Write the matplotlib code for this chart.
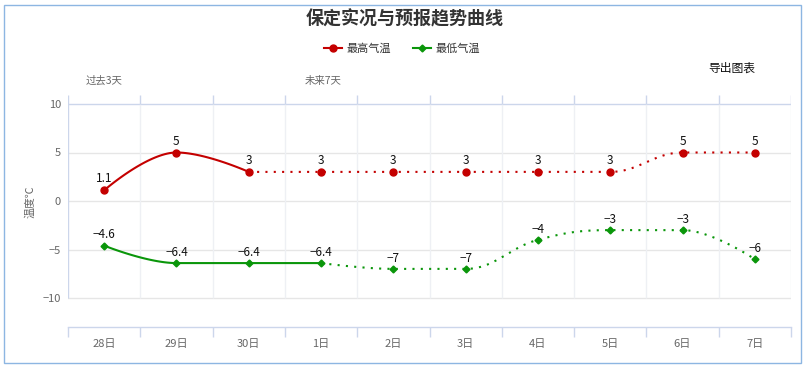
import numpy as np
import matplotlib
matplotlib.use("Agg")
import matplotlib.pyplot as plt
from matplotlib.lines import Line2D
from matplotlib.patches import Rectangle

plt.rcParams['font.family'] = ['Noto Sans CJK SC', 'DejaVu Sans']
plt.rcParams['axes.unicode_minus'] = True

# ---- data ----
dates = ['28日', '29日', '30日', '1日', '2日', '3日', '4日', '5日', '6日', '7日']
high = [1.1, 5, 3, 3, 3, 3, 3, 3, 5, 5]
low = [-4.6, -6.4, -6.4, -6.4, -7, -7, -4, -3, -3, -6]
high_solid_n = 3   # observed part (solid)
low_solid_n = 4
yticks = [-10, -5, 0, 5, 10]
title = '保定实况与预报趋势曲线'
series_names = ['最高气温', '最低气温']

RED = '#c40000'
GREEN = '#0a960a'
AXC = '#ccd6eb'
GRID = '#e6e6e6'


def hc_spline(xs, ys, n=40):
    xs = np.asarray(xs, float)
    ys = np.asarray(ys, float)
    m = len(xs)
    lcx, lcy = xs.copy(), ys.copy()
    rcx, rcy = xs.copy(), ys.copy()
    s = 1.5
    d = s + 1
    for i in range(1, m - 1):
        px, py = xs[i], ys[i]
        lx, ly = xs[i - 1], ys[i - 1]
        nx, ny = xs[i + 1], ys[i + 1]
        a_x = (s * px + lx) / d
        a_y = (s * py + ly) / d
        b_x = (s * px + nx) / d
        b_y = (s * py + ny) / d
        corr = 0.0
        if b_x != a_x:
            corr = (b_y - a_y) * (b_x - px) / (b_x - a_x) + py - b_y
        a_y += corr
        b_y += corr
        if a_y > ly and a_y > py:
            a_y = max(ly, py); b_y = 2 * py - a_y
        elif a_y < ly and a_y < py:
            a_y = min(ly, py); b_y = 2 * py - a_y
        if b_y > ny and b_y > py:
            b_y = max(ny, py); a_y = 2 * py - b_y
        elif b_y < ny and b_y < py:
            b_y = min(ny, py); a_y = 2 * py - b_y
        lcx[i], lcy[i], rcx[i], rcy[i] = a_x, a_y, b_x, b_y
    outx, outy = [xs[0]], [ys[0]]
    t = np.linspace(0, 1, n)[1:]
    for i in range(m - 1):
        p0 = np.array([xs[i], ys[i]])
        p1 = np.array([rcx[i], rcy[i]])
        p2 = np.array([lcx[i + 1], lcy[i + 1]])
        p3 = np.array([xs[i + 1], ys[i + 1]])
        for tt in t:
            pt = ((1 - tt) ** 3) * p0 + 3 * ((1 - tt) ** 2) * tt * p1 + 3 * (1 - tt) * tt ** 2 * p2 + tt ** 3 * p3
            outx.append(pt[0]); outy.append(pt[1])
    return np.array(outx), np.array(outy)


W, H = 810, 368
fig = plt.figure(figsize=(W / 100, H / 100), dpi=100)

# outer border
fig.patches.append(Rectangle((4 / W, 5 / H), 797 / W, 358 / H, transform=fig.transFigure,
                             fill=False, edgecolor='#8db6e2', linewidth=1.0))

left, right, top, bottom = 68, 791, 95, 327
ax = fig.add_axes([left / W, 1 - bottom / H, (right - left) / W, (bottom - top) / H])
ppu = (298 - 104) / 20.0
zero_px = 201
ax.set_ylim((zero_px - bottom) / ppu, (zero_px - top) / ppu)
ax.set_xlim(-0.5, len(dates) - 0.5)
ymin, ymax = ax.get_ylim()

for sp in ['left', 'right', 'top']:
    ax.spines[sp].set_visible(False)
ax.spines['bottom'].set_color(AXC)
ax.spines['bottom'].set_linewidth(1)

# horizontal grid
for v in yticks:
    ax.axhline(v, color=AXC if v == yticks[-1] else GRID, lw=1, zorder=1)
# vertical grid / ticks at band edges
edges = np.arange(-0.5, len(dates), 1.0)
for i, e in enumerate(edges):
    ax.vlines(e, yticks[0], yticks[-1], color=AXC if i == 0 else '#eef0f4', lw=1, zorder=1)
    ax.vlines(e, yticks[-1], ymax, color=AXC, lw=1, zorder=1)

ax.set_xticks(range(len(dates)))
ax.set_xticklabels(dates)
ax.set_xticks(edges, minor=True)
ax.tick_params(axis='x', which='major', length=0, pad=9, labelsize=8, labelcolor='#666666')
ax.tick_params(axis='x', which='minor', length=7.2, width=1, color=AXC, direction='out')
ax.set_yticks(yticks)
ax.tick_params(axis='y', length=0, pad=5, labelsize=8, labelcolor='#666666')

x = np.arange(len(dates))

# high
hx, hy = hc_spline(x[:high_solid_n], high[:high_solid_n])
ax.plot(hx, hy, color=RED, lw=1.5, zorder=3)
hx2, hy2 = hc_spline(x[high_solid_n - 1:], high[high_solid_n - 1:])
ax.plot(hx2, hy2, color=RED, lw=1.5, ls=(0, (1, 3)), zorder=3)
ax.plot(x, high, ls='none', marker='o', ms=5, color=RED, zorder=4)

# low
lx, ly = hc_spline(x[:low_solid_n], low[:low_solid_n])
ax.plot(lx, ly, color=GREEN, lw=1.5, zorder=3)
lx2, ly2 = hc_spline(x[low_solid_n - 1:], low[low_solid_n - 1:])
ax.plot(lx2, ly2, color=GREEN, lw=1.5, ls=(0, (1, 3)), zorder=3)
ax.plot(x, low, ls='none', marker='D', ms=3.5, color=GREEN, zorder=4)


def fmt(v):
    s = ('%g' % v)
    return s.replace('-', '\u2212')


for xi, v in zip(x, high):
    ax.annotate(fmt(v), (xi, v), xytext=(0, 3.5), textcoords='offset points',
                ha='center', va='bottom', fontsize=8.5, color='#111111', zorder=5)
for xi, v in zip(x, low):
    ax.annotate(fmt(v), (xi, v), xytext=(0, 3), textcoords='offset points',
                ha='center', va='bottom', fontsize=8.5, color='#111111', zorder=5)

# y label
fig.text(30 / W, 1 - 202 / H, '温度℃', rotation=90, ha='center', va='center',
         fontsize=7.8, color='#666666')

# title
fig.text(405 / W, 1 - 19 / H, title, ha='center', va='center', fontsize=13,
         fontweight='bold', color='#333333')

# legend
handles = [Line2D([], [], color=RED, lw=1.5, marker='o', ms=5),
           Line2D([], [], color=GREEN, lw=1.5, marker='D', ms=3.5)]
fig.legend(handles, series_names, loc='center', bbox_to_anchor=(402 / W, 1 - 49 / H),
           ncol=2, frameon=False, fontsize=8, handlelength=1.6, handletextpad=0.4,
           columnspacing=2.0, labelcolor='#333333')

fig.text(732 / W, 1 - 68 / H, '导出图表', ha='center', va='center', fontsize=8.5, color='#111111')
fig.text(104 / W, 1 - 81 / H, '过去3天', ha='center', va='center', fontsize=7.5, color='#666666')
fig.text(323 / W, 1 - 81 / H, '未来7天', ha='center', va='center', fontsize=7.5, color='#666666')

fig.savefig('out.png', dpi=100)
